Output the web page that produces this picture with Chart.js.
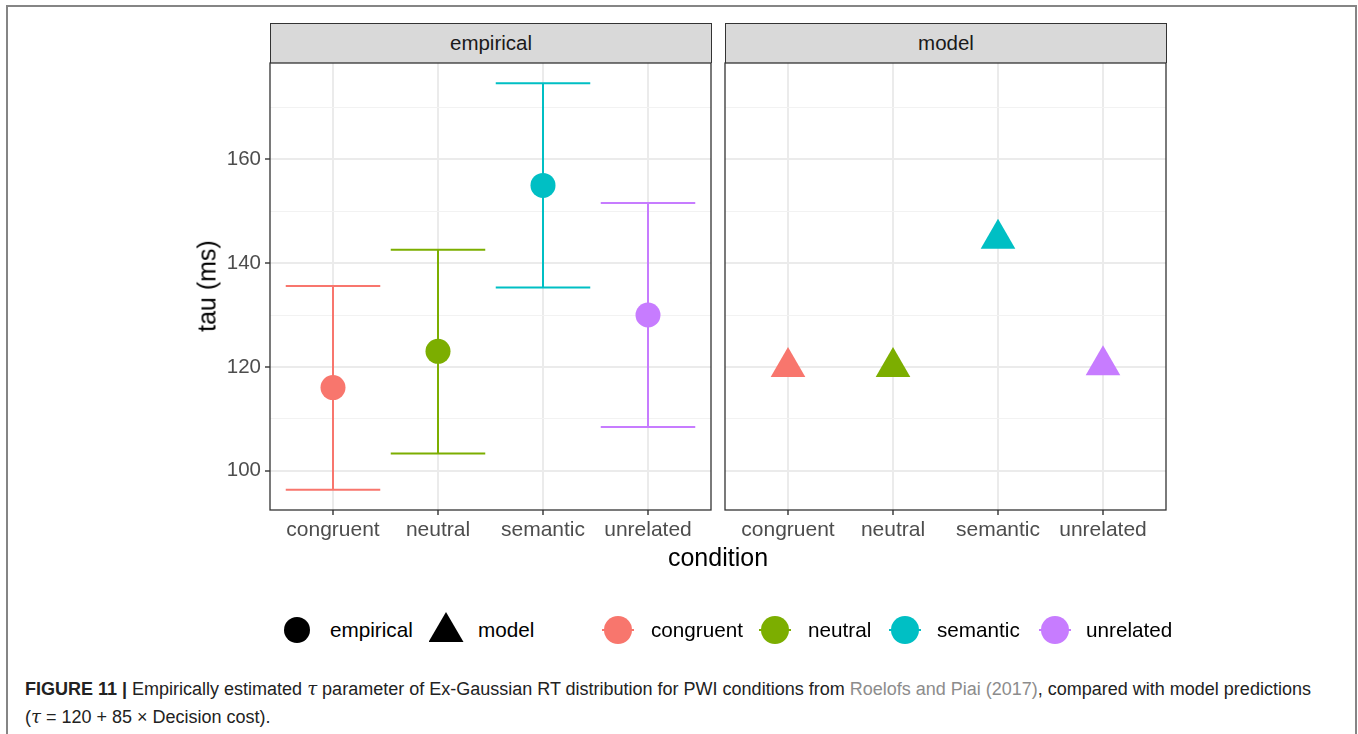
<!DOCTYPE html>
<html>
<head>
<meta charset="utf-8">
<script src="https://cdn.jsdelivr.net/npm/chart.js@4.4.1/dist/chart.umd.min.js"></script>
<style>
  html, body { margin: 0; padding: 0; background: #fff; width: 1358px; height: 734px; overflow: hidden;
    font-family: "Liberation Sans", Arial, sans-serif; }
  #frame { position: absolute; left: 6px; top: 5px; width: 1347px; height: 760px;
    border: 2px solid #858585; border-bottom: none; }
  canvas { position: absolute; }
  .strip { position: absolute; top: 23px; height: 40px; box-sizing: border-box; background: #D9D9D9;
    border: 1px solid #333; border-bottom: none; color: #1A1A1A; font-size: 20.5px; line-height: 38px; text-align: center; }
  .title { position: absolute; color: #000; font-size: 25px; white-space: nowrap; }
  #ytitle { left: 207px; top: 286px; transform: translate(-50%, -50%) rotate(-90deg); }
  #xtitle { left: 718px; top: 557px; transform: translate(-50%, -50%); }
  .lg-key { position: absolute; }
  .lg-text { position: absolute; font-size: 20.7px; color: #000; transform: translateY(-50%); white-space: nowrap; }
  #caption { position: absolute; left: 25px; top: 675px; font-size: 18px; line-height: 28px; color: #222; white-space: nowrap; }
  #caption .ref { color: #8c8c8c; }
  #caption .m { font-family: "DejaVu Serif", "Liberation Serif", serif; font-style: italic; }
</style>
</head>
<body>
<div id="frame"></div>
<div class="strip" style="left:270px;width:442px;">empirical</div>
<div class="strip" style="left:725px;width:442px;">model</div>
<canvas id="empirical" width="562" height="488" style="left:150px;top:62px;"></canvas>
<canvas id="model" width="443" height="488" style="left:724px;top:62px;"></canvas>
<div class="title" id="ytitle">tau (ms)</div>
<div class="title" id="xtitle">condition</div>
<div id="legend"></div>
<div id="caption"><b>FIGURE 11 |</b> Empirically estimated <span class="m">τ</span> parameter of Ex-Gaussian RT distribution for PWI conditions from <span class="ref">Roelofs and Piai (2017)</span>, compared with model predictions<br>(<span class="m">τ</span> = 120 + 85 × Decision cost).</div>
<script>
// Conditions and their colours
const categories = ['congruent', 'neutral', 'semantic', 'unrelated'];
const colours = ['#F8766D', '#7CAE00', '#00BFC4', '#C77CFF'];

// Empirical tau estimates (ms) with interval limits
const empiricalTau = [116, 123, 155, 130];
const empiricalLower = [96.3, 103.3, 135.3, 108.4];
const empiricalUpper = [135.6, 142.6, 174.7, 151.6];

// Model predictions (ms)
const modelTau = [120, 120, 144.7, 120.3];

// Value axis
const yTicks = [100, 110, 120, 130, 140, 150, 160, 170];
const yMajorStep = 20;
const yMin = 92.4;
const yMax = 178.6;

const FONT = '"Liberation Sans", Arial, sans-serif';
const X_AXIS_HEIGHT = 40;
const CAP_HALF_WIDTH = 0.45;

const isMajor = v => v % yMajorStep === 0;

function buildScales(showY) {
  return {
    x: {
      type: 'linear', min: 0.4, max: 4.6,
      afterBuildTicks: s => { s.ticks = categories.map((c, i) => ({ value: i + 1 })); },
      afterFit: s => { s.height = X_AXIS_HEIGHT; s.paddingLeft = 0; s.paddingRight = 0; },
      grid: { color: '#EBEBEB', lineWidth: 2, tickColor: '#333333', tickLength: 5, tickWidth: 1.4 },
      border: { display: false },
      ticks: { autoSkip: false, maxRotation: 0, padding: 3, color: '#4D4D4D',
        font: { family: FONT, size: 21 }, callback: v => categories[Math.round(v) - 1] }
    },
    y: {
      type: 'linear', min: yMin, max: yMax,
      afterBuildTicks: s => { s.ticks = yTicks.map(v => ({ value: v })); },
      afterFit: s => { s.width = showY ? 120 : 1; s.paddingTop = 0; s.paddingBottom = 0; },
      grid: {
        color: c => isMajor(c.tick.value) ? '#EBEBEB' : '#F2F2F2',
        lineWidth: c => isMajor(c.tick.value) ? 2 : 1,
        tickColor: c => (showY && isMajor(c.tick.value)) ? '#333333' : 'rgba(0,0,0,0)',
        tickLength: 5, tickWidth: 1.4, drawTicks: showY
      },
      border: { display: false },
      ticks: { display: showY, autoSkip: false, padding: 4, color: '#4D4D4D',
        font: { family: FONT, size: 20.5 }, callback: v => isMajor(v) ? String(v) : '' }
    }
  };
}

// Thin dark frame around each panel
const panelBorder = {
  id: 'panelBorder',
  afterDraw(chart) {
    const { ctx, chartArea: a } = chart;
    ctx.save();
    ctx.strokeStyle = '#333333';
    ctx.lineWidth = 1.3;
    ctx.strokeRect(a.left, a.top, a.right - a.left, a.bottom - a.top);
    ctx.restore();
  }
};

const commonOptions = showY => ({
  responsive: false, animation: false, events: [],
  layout: { autoPadding: false, padding: { top: 1, right: 1, left: 0, bottom: 0 } },
  plugins: { legend: { display: false }, tooltip: { enabled: false } },
  scales: buildScales(showY)
});

// Error bar path: top cap, gap, vertical stem, gap, bottom cap
function errorBarPoints(i) {
  const x = i + 1, lo = empiricalLower[i], hi = empiricalUpper[i];
  return [
    { x: x - CAP_HALF_WIDTH, y: hi }, { x: x + CAP_HALF_WIDTH, y: hi }, { x: x, y: null },
    { x: x, y: hi }, { x: x, y: lo }, { x: x, y: null },
    { x: x - CAP_HALF_WIDTH, y: lo }, { x: x + CAP_HALF_WIDTH, y: lo }
  ];
}

const errorBarSets = categories.map((c, i) => ({
  type: 'line', label: c + ' interval', data: errorBarPoints(i),
  borderColor: colours[i], borderWidth: 2, pointRadius: 0, spanGaps: false, tension: 0, order: 2
}));

new Chart(document.getElementById('empirical'), {
  type: 'line',
  data: {
    datasets: [
      ...errorBarSets,
      {
        type: 'scatter', label: 'empirical',
        data: empiricalTau.map((v, i) => ({ x: i + 1, y: v })),
        backgroundColor: colours, borderWidth: 0, pointRadius: 12.5, pointStyle: 'circle', order: 0
      }
    ]
  },
  options: commonOptions(true),
  plugins: [panelBorder]
});

new Chart(document.getElementById('model'), {
  type: 'scatter',
  data: {
    datasets: [{
      label: 'model',
      data: modelTau.map((v, i) => ({ x: i + 1, y: v })),
      backgroundColor: colours, borderWidth: 0, pointRadius: 20, pointStyle: 'triangle'
    }]
  },
  options: commonOptions(false),
  plugins: [panelBorder]
});

// Legend: shape keys then colour keys
const legendY = 630;
const shapeKeys = [
  { label: 'empirical', shape: 'circle', x: 297, textX: 330 },
  { label: 'model', shape: 'triangle', x: 446, textX: 478 }
];
const colourKeyX = [618, 775, 905, 1055];
const colourTextX = [651, 808, 937, 1086];
const legend = document.getElementById('legend');

function addKey(html) { legend.insertAdjacentHTML('beforeend', html); }

shapeKeys.forEach(k => {
  if (k.shape === 'circle') {
    addKey(`<div class="lg-key" style="left:${k.x - 13}px;top:${legendY - 13}px;width:26px;height:26px;border-radius:50%;background:#000;"></div>`);
  } else {
    addKey(`<div class="lg-key" style="left:${k.x - 17.5}px;top:${legendY - 18}px;width:35px;height:30px;background:#000;clip-path:polygon(50% 0,100% 100%,0 100%);"></div>`);
  }
  addKey(`<div class="lg-text" style="left:${k.textX}px;top:${legendY}px;">${k.label}</div>`);
});

categories.forEach((c, i) => {
  const cx = colourKeyX[i];
  addKey(`<div class="lg-key" style="left:${cx - 16}px;top:${legendY - 1}px;width:32px;height:2px;background:${colours[i]};"></div>`);
  addKey(`<div class="lg-key" style="left:${cx - 14}px;top:${legendY - 14}px;width:28px;height:28px;border-radius:50%;background:${colours[i]};"></div>`);
  addKey(`<div class="lg-text" style="left:${colourTextX[i]}px;top:${legendY}px;">${c}</div>`);
});
</script>
</body>
</html>
